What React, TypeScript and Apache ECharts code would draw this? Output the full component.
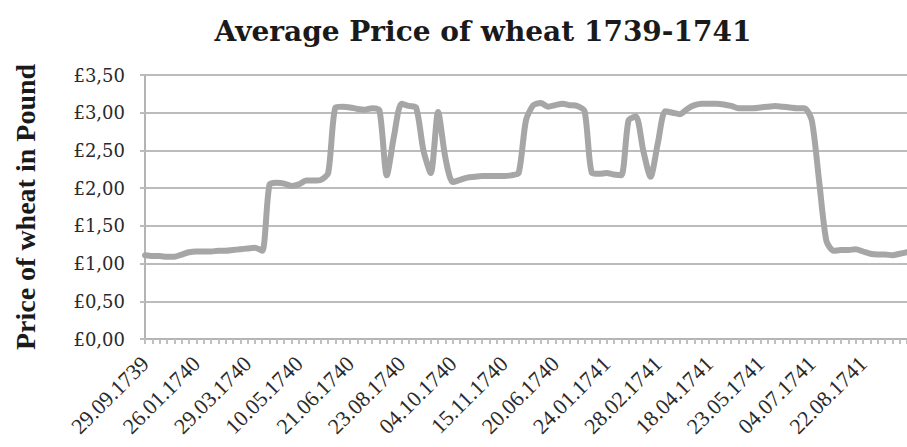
import React, { useEffect, useRef } from "react";
import * as echarts from "echarts";

const chartTitle = "Average Price of wheat 1739-1741";
const yAxisTitle = "Price of wheat in Pound";

// Labels shown under the x axis, one every `labelEvery` weekly observations
const tickLabels = [
  "29.09.1739", "26.01.1740", "29.03.1740", "10.05.1740", "21.06.1740",
  "23.08.1740", "04.10.1740", "15.11.1740", "20.06.1740", "24.01.1741",
  "28.02.1741", "18.04.1741", "23.05.1741", "04.07.1741", "22.08.1741",
];
const labelEvery = 7;

const prices = [
  1.11, 1.10, 1.10, 1.09, 1.09, 1.12, 1.15, 1.16, 1.16, 1.16,
  1.17, 1.17, 1.18, 1.19, 1.20, 1.21, 1.17, 2.05, 2.07, 2.06,
  2.03, 2.05, 2.10, 2.10, 2.11, 2.20, 3.07, 3.08, 3.07, 3.05,
  3.04, 3.06, 3.03, 2.17, 2.70, 3.12, 3.09, 3.07, 2.50, 2.20,
  3.01, 2.40, 2.08, 2.11, 2.14, 2.15, 2.16, 2.16, 2.16, 2.16,
  2.17, 2.20, 2.90, 3.10, 3.13, 3.08, 3.10, 3.12, 3.10, 3.09,
  3.02, 2.20, 2.19, 2.20, 2.18, 2.17, 2.90, 2.95, 2.50, 2.15,
  2.60, 3.02, 3.00, 2.98, 3.05, 3.10, 3.12, 3.12, 3.12, 3.11,
  3.09, 3.06, 3.06, 3.06, 3.07, 3.08, 3.09, 3.08, 3.07, 3.06,
  3.06, 2.90, 2.10, 1.30, 1.17, 1.18, 1.18, 1.19, 1.16, 1.13,
  1.12, 1.12, 1.11, 1.13, 1.15,
];

const yMin = 0;
const yMax = 3.5;
const yStep = 0.5;

const categories = prices.map((_, i) =>
  i % labelEvery === 0 && tickLabels[i / labelEvery] ? tickLabels[i / labelEvery] : ""
);

export default function App() {
  const ref = useRef<HTMLDivElement>(null);

  useEffect(() => {
    if (!ref.current) return;
    const chart = echarts.init(ref.current, undefined, { renderer: "svg" });
    chart.setOption({
      animation: false,
      backgroundColor: "#ffffff",
      title: {
        text: chartTitle,
        left: 478,
        top: 12,
        textAlign: "center",
        textStyle: {
          fontFamily: "DejaVu Serif",
          fontWeight: "bold",
          fontSize: 28,
          color: "#1a1a1a",
        },
      },
      grid: { left: 145, top: 75, right: 0, bottom: 108, containLabel: false },
      xAxis: {
        type: "category",
        data: categories,
        boundaryGap: false,
        axisLine: { show: true, lineStyle: { color: "#b4b4b4", width: 2 } },
        axisTick: {
          show: true,
          interval: 0,
          length: 5,
          lineStyle: { color: "#c0c0c0", width: 2 },
        },
        axisLabel: {
          interval: labelEvery - 1,
          rotate: 45,
          margin: 21,
          fontFamily: "Liberation Serif",
          fontSize: 22,
          color: "#2a2a2a",
        },
        splitLine: { show: false },
      },
      yAxis: {
        type: "value",
        min: yMin,
        max: yMax,
        interval: yStep,
        name: yAxisTitle,
        nameLocation: "middle",
        nameGap: 106,
        nameRotate: 90,
        nameTextStyle: {
          fontFamily: "Liberation Serif",
          fontWeight: "bold",
          fontSize: 28,
          color: "#1a1a1a",
        },
        axisLine: { show: true, lineStyle: { color: "#b4b4b4", width: 2 } },
        axisTick: { show: true, length: 5, lineStyle: { color: "#bcbcbc", width: 2 } },
        axisLabel: {
          margin: 20,
          fontFamily: "DejaVu Serif",
          fontSize: 18,
          color: "#2a2a2a",
          formatter: (v: number) => "£" + v.toFixed(2).replace(".", ","),
        },
        splitLine: { show: true, lineStyle: { color: "#bcbcbc", width: 2 } },
      },
      series: [
        {
          type: "line",
          data: prices,
          symbol: "none",
          smooth: 0.25,
          clip: false,
          lineStyle: { color: "#a6a6a6", width: 6, cap: "round", join: "round" },
        },
      ],
    });
    return () => chart.dispose();
  }, []);

  return (
    <div
      ref={ref}
      style={{ position: "absolute", left: 0, top: 0, width: 907, height: 447 }}
    />
  );
}
